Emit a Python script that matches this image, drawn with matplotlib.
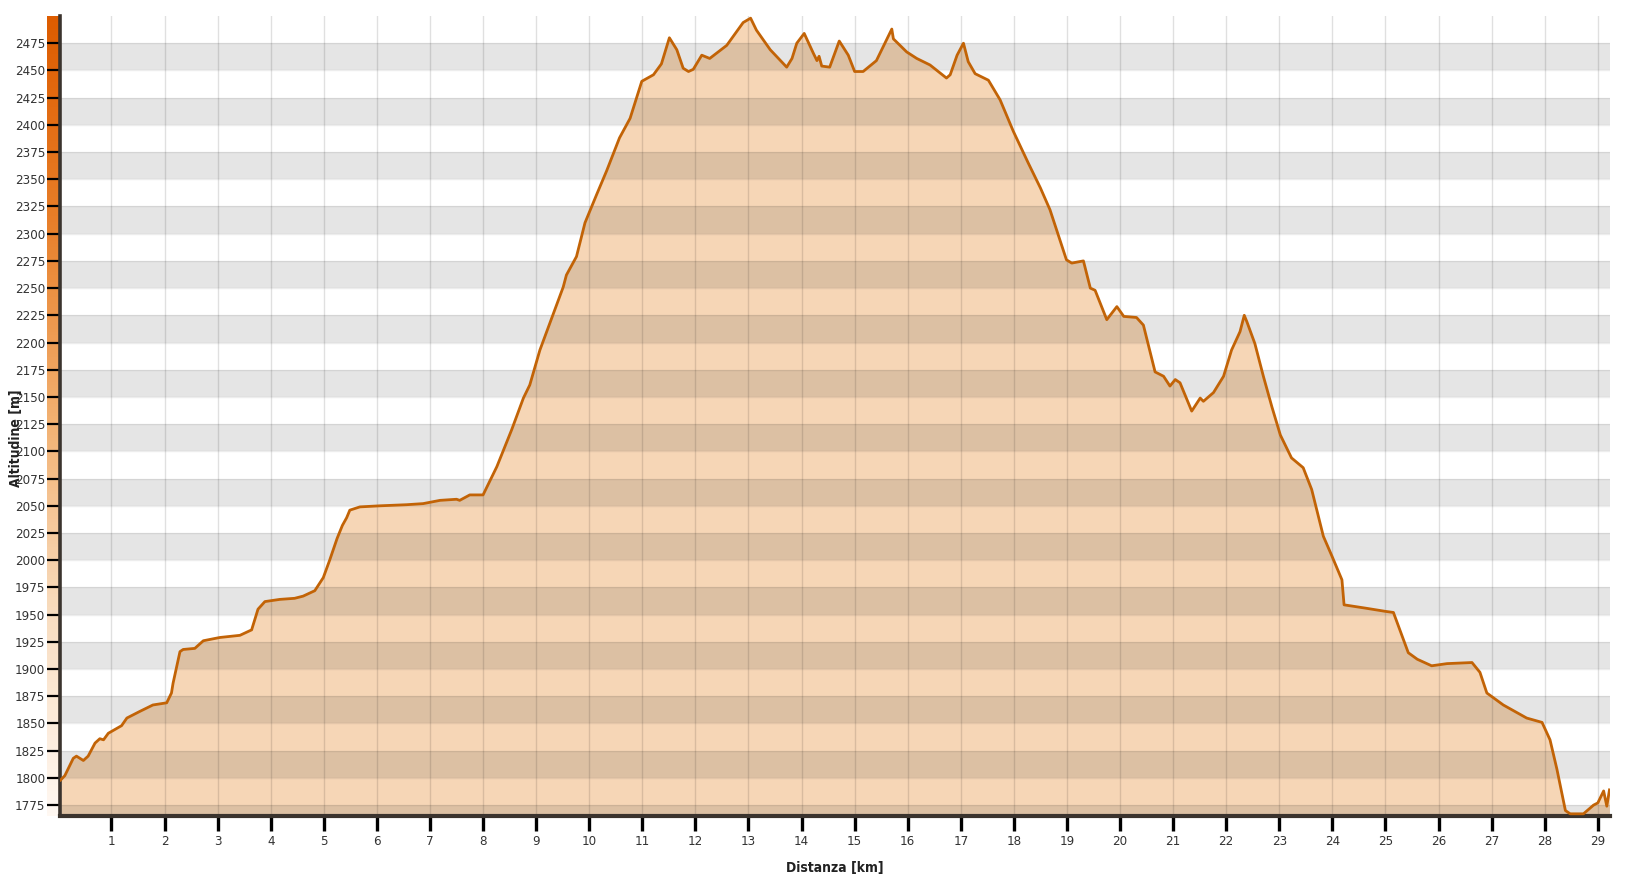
import matplotlib
matplotlib.use("Agg")
import matplotlib.pyplot as plt
import numpy as np
from matplotlib.colors import LinearSegmentedColormap

# --- Dati profilo (km, m) ---
km = [0.04, 0.12, 0.28, 0.34, 0.47, 0.56, 0.69, 0.78, 0.85, 0.94,
      1.12, 1.19, 1.29, 1.53, 1.78, 2.04, 2.13, 2.16, 2.29, 2.35,
      2.57, 2.73, 3.04, 3.42, 3.64, 3.76, 3.89, 4.17, 4.45, 4.61,
      4.83, 4.99, 5.11, 5.25, 5.35, 5.43, 5.49, 5.68, 6.06, 6.56,
      6.87, 7.19, 7.50, 7.56, 7.75, 8.00, 8.26, 8.54, 8.76, 8.88,
      9.07, 9.26, 9.51, 9.57, 9.76, 9.92, 10.08, 10.14, 10.33, 10.57,
      10.77, 10.99, 11.21, 11.36, 11.51, 11.65, 11.77, 11.87, 11.96, 12.12,
      12.27, 12.59, 12.90, 13.04, 13.15, 13.41, 13.72, 13.82, 13.91, 14.05,
      14.22, 14.29, 14.33, 14.38, 14.53, 14.71, 14.88, 15.00, 15.16, 15.41,
      15.60, 15.70, 15.73, 15.98, 16.17, 16.42, 16.73, 16.80, 16.93, 17.05,
      17.14, 17.27, 17.52, 17.74, 17.99, 18.27, 18.50, 18.68, 18.99, 19.09,
      19.31, 19.44, 19.53, 19.75, 19.94, 20.07, 20.31, 20.44, 20.66, 20.82,
      20.94, 21.04, 21.13, 21.35, 21.51, 21.57, 21.76, 21.95, 22.10, 22.26,
      22.34, 22.39, 22.54, 22.70, 22.86, 23.02, 23.23, 23.45, 23.61, 23.83,
      23.99, 24.18, 24.22, 24.62, 25.00, 25.15, 25.43, 25.60, 25.87, 26.16,
      26.63, 26.78, 26.91, 27.22, 27.66, 27.95, 28.10, 28.23, 28.39, 28.48,
      28.73, 28.92, 29.00, 29.11, 29.17, 29.22]
alt = [1798, 1802, 1818, 1820, 1816, 1820, 1832, 1836, 1835, 1841,
       1846, 1848, 1855, 1861, 1867, 1869, 1878, 1887, 1916, 1918,
       1919, 1926, 1929, 1931, 1936, 1955, 1962, 1964, 1965, 1967,
       1972, 1984, 2000, 2020, 2032, 2039, 2046, 2049, 2050, 2051,
       2052, 2055, 2056, 2055, 2060, 2060, 2086, 2120, 2149, 2161,
       2193, 2218, 2251, 2262, 2279, 2310, 2329, 2336, 2358, 2388,
       2406, 2440, 2446, 2456, 2480, 2469, 2452, 2449, 2451, 2464,
       2461, 2473, 2494, 2498, 2487, 2469, 2453, 2461, 2475, 2484,
       2466, 2459, 2463, 2454, 2453, 2477, 2464, 2449, 2449, 2459,
       2478, 2488, 2479, 2467, 2461, 2455, 2443, 2446, 2464, 2475,
       2458, 2447, 2441, 2423, 2394, 2365, 2342, 2322, 2276, 2273,
       2275, 2250, 2248, 2221, 2233, 2224, 2223, 2216, 2173, 2169,
       2160, 2166, 2163, 2137, 2149, 2146, 2154, 2169, 2193, 2210,
       2225, 2219, 2199, 2169, 2141, 2115, 2094, 2085, 2065, 2022,
       2004, 1982, 1959, 1956, 1953, 1952, 1915, 1909, 1903, 1905,
       1906, 1897, 1878, 1867, 1855, 1851, 1835, 1808, 1770, 1767,
       1767, 1775, 1777, 1788, 1774, 1789]

x_ticks = list(range(1, 30))
y_ticks = list(range(1775, 2476, 25))
y_min, y_max = 1765, 2500
x_min, x_max = 0.03, 29.23

# --- Figura ---
fig = plt.figure(figsize=(16.38, 8.77), dpi=100)
ax = fig.add_axes([60/1638, 61/877, 1550/1638, 800/877])
cax = fig.add_axes([47/1638, 61/877, 12/1638, 800/877])
ax.set_zorder(2)
cax.set_zorder(1)

# barra colorata a sinistra
cmap = LinearSegmentedColormap.from_list(
    "alt", ["#FFF8F2", "#F8DDC0", "#F2B070", "#E87E28", "#DD5C00"])
grad = np.linspace(0, 1, 256).reshape(-1, 1)
cax.imshow(grad, aspect="auto", cmap=cmap, origin="lower",
           extent=[0, 1, y_min, y_max])
cax.set_ylim(y_min, y_max)
cax.axis("off")

# profilo
ax.fill_between(km, alt, y_min, color="#F6D6B6", lw=0, zorder=1)

# bande grigie
for b in range(1750, 2500, 50):
    ax.axhspan(b, b + 25, color="black", alpha=0.1, lw=0, zorder=2)
for yv in range(1775, 2500, 25):
    ax.axhline(yv, color="black", alpha=0.07, lw=1, zorder=2)
for xv in x_ticks:
    ax.axvline(xv, color="black", alpha=0.12, lw=1, zorder=2)

ax.plot(km, alt, color="#C26306", lw=2.0, zorder=4, solid_joinstyle="round")

ax.set_xlim(x_min, x_max)
ax.set_ylim(y_min, y_max)
ax.set_xticks(x_ticks)
ax.set_yticks(y_ticks)

font = ["Liberation Sans Narrow", "DejaVu Sans"]
for lab in ax.get_xticklabels() + ax.get_yticklabels():
    lab.set_family(font)
    lab.set_stretch("condensed")
    lab.set_fontsize(9.5)
    lab.set_color("#333333")

ax.tick_params(axis="y", length=9.5, width=1.6, color="black", pad=1)
ax.tick_params(axis="x", length=10.5, width=2.4, color="black", pad=3)

for s in ["top", "right"]:
    ax.spines[s].set_visible(False)
ax.spines["left"].set_color("#3A332D")
ax.spines["left"].set_linewidth(2.6)
ax.spines["bottom"].set_color("#3A332D")
ax.spines["bottom"].set_linewidth(3)

fig.text(835/1638, 1 - 868/877, "Distanza [km]", ha="center", va="center",
         fontsize=10, fontweight="bold", family=font, stretch="condensed",
         color="#222222")
fig.text(16/1638, 1 - 438/877, "Altitudine [m]", ha="center", va="center",
         rotation=90, fontsize=10, fontweight="bold", family=font,
         stretch="condensed", color="#222222")

fig.savefig("out.png", dpi=100)
